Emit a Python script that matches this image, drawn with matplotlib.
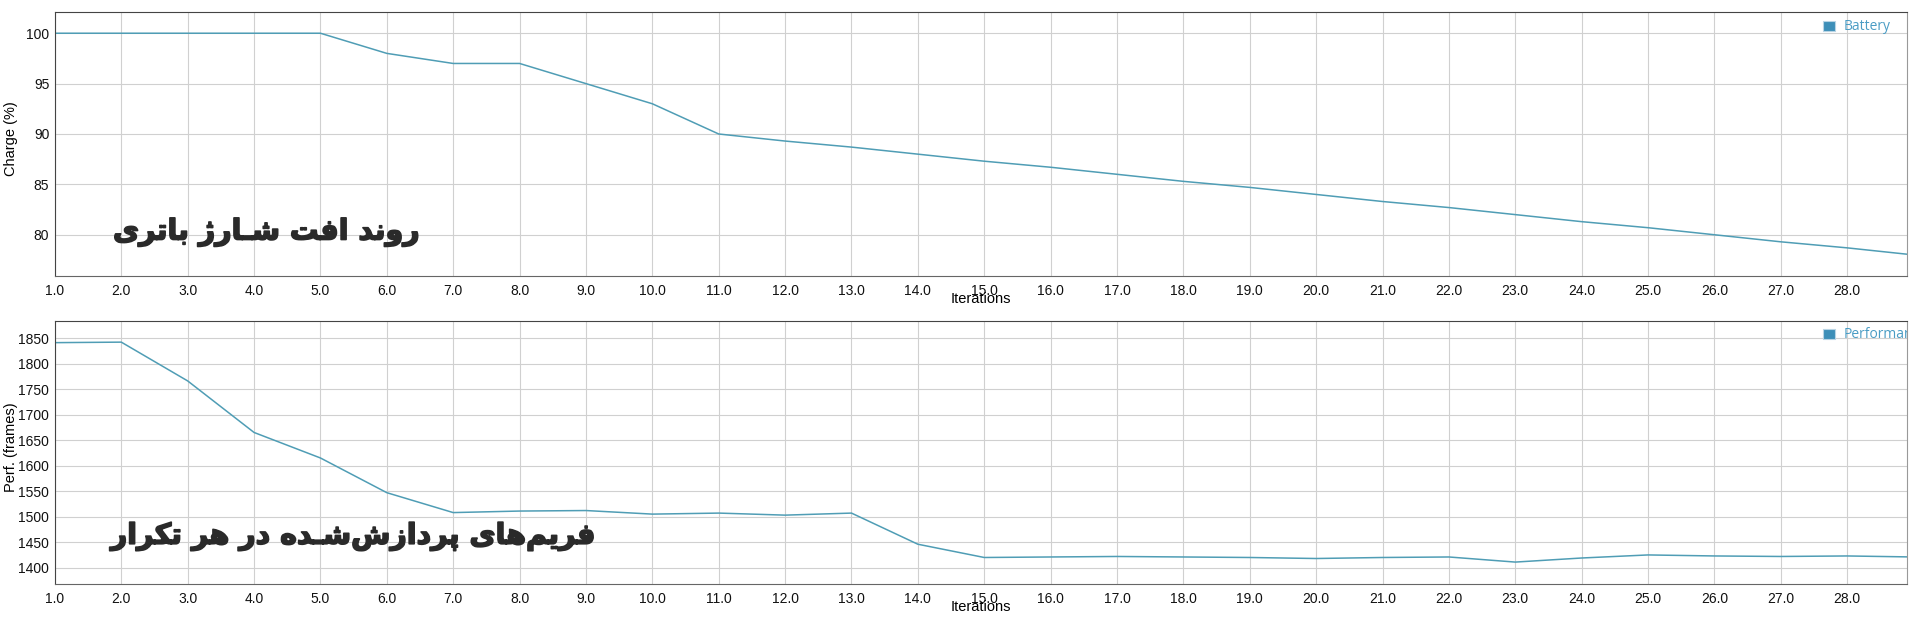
import matplotlib
matplotlib.use('Agg')
import matplotlib.pyplot as plt
import matplotlib.patheffects as pe
from matplotlib.patches import Rectangle
from matplotlib.ticker import FormatStrFormatter, MultipleLocator

plt.rcParams['font.family'] = ['Liberation Sans', 'DejaVu Sans']

# داده‌ها
iterations = list(range(1, 30))
battery = [100, 100, 100, 100, 100, 98, 97, 97, 95, 93, 90,
           89.3, 88.7, 88.0, 87.3, 86.7, 86.0, 85.3, 84.7, 84.0,
           83.3, 82.7, 82.0, 81.3, 80.7, 80.0, 79.3, 78.7, 78.0]
performance = [1841, 1842, 1766, 1665, 1615, 1547, 1508, 1511, 1512, 1505,
               1507, 1503, 1507, 1446, 1420, 1421, 1422, 1421, 1420, 1418,
               1420, 1421, 1411, 1419, 1425, 1423, 1422, 1423, 1421]
battery_title = 'روند افت شـارژ باتری'
perf_title = 'فریم‌های پردازش‌شـده در هر تکرار'

LINE = '#4f9db5'
GRID = '#d0d0d0'
TITLE = '#2a2a2a'

# شکل‌دهی ساده‌ی حروف فارسی (matplotlib خودش این کار را نمی‌کند)
FORMS = {
    'ا': ('\uFE8D', '\uFE8E', None, None),
    'ب': ('\uFE8F', '\uFE90', '\uFE91', '\uFE92'),
    'پ': ('\uFB56', '\uFB57', '\uFB58', '\uFB59'),
    'ت': ('\uFE95', '\uFE96', '\uFE97', '\uFE98'),
    'د': ('\uFEA9', '\uFEAA', None, None),
    'ر': ('\uFEAD', '\uFEAE', None, None),
    'ز': ('\uFEAF', '\uFEB0', None, None),
    'ژ': ('\uFB8A', '\uFB8B', None, None),
    'ش': ('\uFEB5', '\uFEB6', '\uFEB7', '\uFEB8'),
    'ف': ('\uFED1', '\uFED2', '\uFED3', '\uFED4'),
    'ک': ('\uFB8E', '\uFB8F', '\uFB90', '\uFB91'),
    'م': ('\uFEE1', '\uFEE2', '\uFEE3', '\uFEE4'),
    'ن': ('\uFEE5', '\uFEE6', '\uFEE7', '\uFEE8'),
    'ه': ('\uFEE9', '\uFEEA', '\uFEEB', '\uFEEC'),
    'و': ('\uFEED', '\uFEEE', None, None),
    'ی': ('\uFBFC', '\uFBFD', '\uFBFE', '\uFBFF'),
    'ـ': ('ـ', 'ـ', 'ـ', 'ـ'),
}


def dual(c):
    return c in FORMS and FORMS[c][2] is not None


def shape(s):
    out = []
    for i, c in enumerate(s):
        if c not in FORMS:
            if c != '\u200c':
                out.append(c)
            continue
        prev = s[i - 1] if i > 0 else ''
        nxt = s[i + 1] if i + 1 < len(s) else ''
        jp = dual(prev)
        jn = dual(c) and nxt in FORMS
        isol, fina, init, medi = FORMS[c]
        if jp and jn:
            out.append(medi)
        elif jp:
            out.append(fina)
        elif jn:
            out.append(init)
        else:
            out.append(isol)
    return ''.join(out)[::-1]


fig = plt.figure(figsize=(19.2, 6.19), dpi=100)
ax1 = fig.add_axes([0.0286, 0.554, 0.9646, 0.4265])
ax2 = fig.add_axes([0.0286, 0.0565, 0.9646, 0.4254])


def style(ax, ylabel, legend):
    ax.set_xlim(1, 28.9)
    ax.xaxis.set_major_locator(MultipleLocator(1))
    ax.xaxis.set_major_formatter(FormatStrFormatter('%.1f'))
    ax.grid(True, color=GRID, linewidth=0.8)
    ax.set_axisbelow(True)
    ax.tick_params(length=0, labelsize=10, pad=6, colors='#111111')
    ax.tick_params(axis='y', pad=4)
    for side in ['top', 'left']:
        ax.spines[side].set_color('#444444')
    ax.spines['bottom'].set_color('#666666')
    ax.spines['right'].set_color('#999999')
    ax.set_xlabel('Iterations', fontsize=10.5)
    ax.xaxis.set_label_coords(0.5, -0.060)
    ax.set_ylabel(ylabel, fontsize=10.5)
    ax.yaxis.set_label_coords(-0.020, 0.52)
    ax.add_patch(Rectangle((0.9546, 0.929), 0.0068, 0.038, transform=ax.transAxes,
                           facecolor='#3d8fb8', edgecolor='#b8d4e4', linewidth=0.8,
                           clip_on=False))
    ax.text(0.9656, 0.946, legend, transform=ax.transAxes, fontsize=10,
            color='#4a9cc4', va='center', ha='left', clip_on=True,
            family=['Open Sans', 'DejaVu Sans'])


bold = [pe.withStroke(linewidth=1.2, foreground=TITLE)]

ax1.plot(iterations, battery, color=LINE, linewidth=1.1)
ax1.set_ylim(75.9, 102.1)
ax1.yaxis.set_major_locator(MultipleLocator(5))
style(ax1, 'Charge (%)', 'Battery')
ax1.text(0.197, 0.165, shape(battery_title), transform=ax1.transAxes,
         ha='right', va='center', fontsize=20.5, fontweight='bold',
         color=TITLE, family=['DejaVu Sans'], path_effects=bold)

ax2.plot(iterations, performance, color=LINE, linewidth=1.1)
ax2.set_ylim(1368, 1884)
ax2.yaxis.set_major_locator(MultipleLocator(50))
style(ax2, 'Perf. (frames)', 'Performance')
ax2.text(0.292, 0.18, shape(perf_title), transform=ax2.transAxes,
         ha='right', va='center', fontsize=20.5, fontweight='bold',
         color=TITLE, family=['DejaVu Sans'], path_effects=bold)

fig.savefig('out.png', dpi=100)
